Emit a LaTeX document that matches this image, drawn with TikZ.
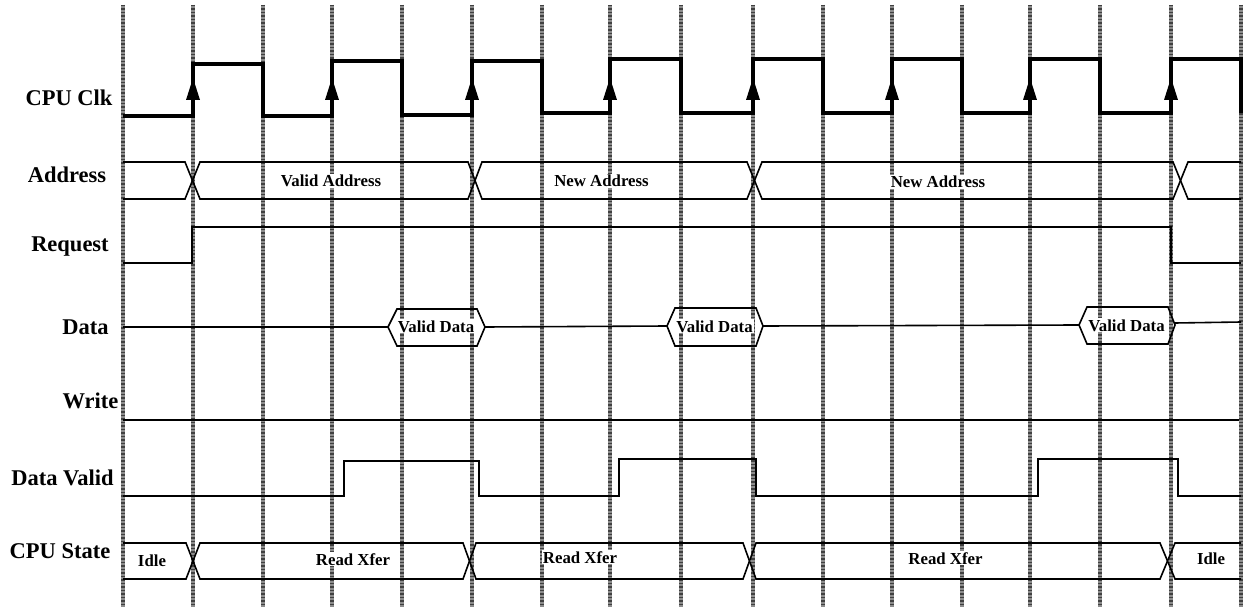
\documentclass[tikz,border=0pt]{standalone}
\usepackage{fontspec}
\setmainfont{Liberation Serif}
\begin{document}
\begin{tikzpicture}[x=1pt,y=-1pt,
  gridln/.style={line width=3.2pt, black!45},
  gridstripe/.style={line width=3.2pt, black!75, dash pattern=on 1.5pt off 2pt},
  clk/.style={line width=3.4pt, line join=miter},
  sig/.style={line width=1.6pt},
  rowlab/.style={font=\fontsize{22.5}{27}\selectfont\bfseries, inner sep=0pt, anchor=base},
  lab/.style={font=\fontsize{16.8}{20}\selectfont\bfseries, fill=white, inner sep=1pt, anchor=base}]
\useasboundingbox (0,0) rectangle (1244,612);
% grid
\foreach \x in {123,193,263,332,402,472,542,610,681,753,823,892,962,1030,1100,1171,1241}{
  \draw[gridln] (\x,5) -- (\x,607);
  \draw[gridstripe] (\x,5) -- (\x,607);}
% clock
\draw[clk] (123,116) -- (193,116) -- (193,64) -- (263,64) -- (263,116) -- (332,116) -- (332,61) -- (402,61) -- (402,115) -- (472,115) -- (472,61) -- (542,61) -- (542,113) -- (610,113) -- (610,59) -- (681,59) -- (681,113) -- (753,113) -- (753,59) -- (823,59) -- (823,113) -- (892,113) -- (892,59) -- (962,59) -- (962,113) -- (1030,113) -- (1030,59) -- (1100,59) -- (1100,113) -- (1171,113) -- (1171,59) -- (1241,59) -- (1241,113);
\foreach \x in {193,332,472,610,753,892,1030,1171}
  \fill (\x-7,100) -- (\x,78) -- (\x+7,100) -- cycle;
% address
\draw[sig] (123,162) -- (185,162) -- (200,199) -- (468,199) -- (482,162) -- (747,162) -- (762,199) -- (1173,199) -- (1188,162) -- (1241,162);
\draw[sig] (123,199) -- (185,199) -- (200,162) -- (468,162) -- (482,199) -- (747,199) -- (762,162) -- (1173,162) -- (1188,199) -- (1241,199);
% request
\draw[sig] (123,263) -- (192,263) -- (192,227) -- (1171,227) -- (1171,263) -- (1241,263);
% data
\draw[sig] (123,327) -- (388,327);
\draw[sig] (388,327) -- (397,309) -- (477,309) -- (485,327) -- (477,346) -- (397,346) -- cycle;
\draw[sig] (485,327) -- (667,326);
\draw[sig] (667,326) -- (675,308) -- (756,308) -- (763,326) -- (756,346) -- (675,346) -- cycle;
\draw[sig] (763,326) -- (1079,325);
\draw[sig] (1079,325) -- (1087,307) -- (1168,307) -- (1175,325) -- (1168,344) -- (1087,344) -- cycle;
\draw[sig] (1175,323) -- (1241,322);
% write
\draw[sig] (123,420) -- (1239,420);
% data valid
\draw[sig] (123,496) -- (344,496) -- (344,461) -- (479,461) -- (479,496) -- (619,496) -- (619,459) -- (756,459) -- (756,496) -- (1038,496) -- (1038,459) -- (1178,459) -- (1178,496) -- (1241,496);
% cpu state
\draw[sig] (123,543) -- (186,543) -- (200,579) -- (463,579) -- (476,543) -- (743,543) -- (756,579) -- (1160,579) -- (1175,543) -- (1241,543);
\draw[sig] (123,579) -- (186,579) -- (200,543) -- (463,543) -- (476,579) -- (743,579) -- (756,543) -- (1160,543) -- (1175,579) -- (1241,579);
% row labels
\node[rowlab] (lclk) at (69,106) {CPU Clk};
\node[rowlab] (laddr) at (67,183) {Address};
\node[rowlab] (lreq) at (70,252) {Request};
\node[rowlab] (ldata) at (85.5,334) {Data};
\node[rowlab] (lwr) at (90.5,408) {Write};
\node[rowlab] (ldv) at (62.5,485) {Data Valid};
\node[rowlab] (lst) at (60,558) {CPU State};
% inner labels
\node[lab] (a1) at (331,187) {Valid Address};
\node[lab] (a2) at (601.5,187) {New Address};
\node[lab] (a3) at (938,188) {New Address};
\node[lab] (d1) at (436,332) {Valid Data};
\node[lab] (d2) at (714.5,332) {Valid Data};
\node[lab] (d3) at (1126.5,331) {Valid Data};
\node[lab] (s1) at (152,566) {Idle};
\node[lab] (s2) at (353,565) {Read Xfer};
\node[lab] (s3) at (580,563) {Read Xfer};
\node[lab] (s4) at (945.5,564) {Read Xfer};
\node[lab] (s5) at (1211,564) {Idle};
\end{tikzpicture}
\end{document}
